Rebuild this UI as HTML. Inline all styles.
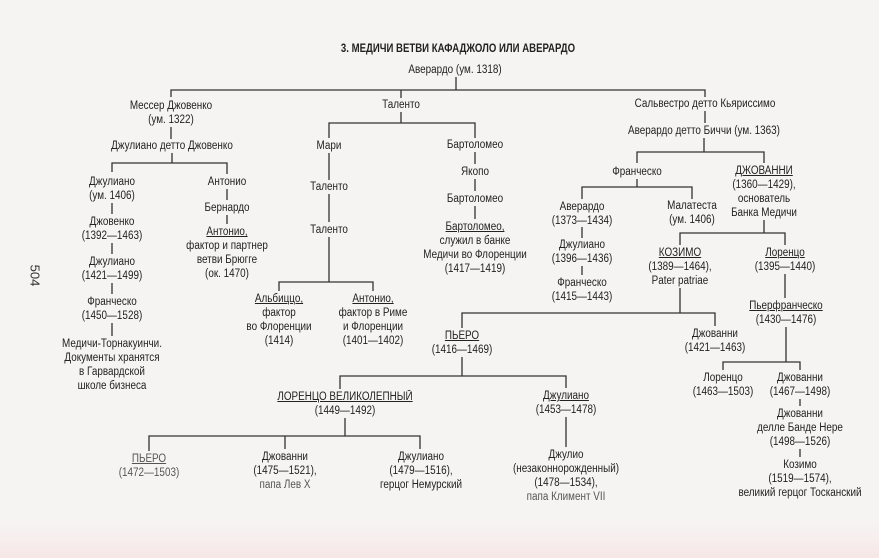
<!DOCTYPE html>
<html><head><meta charset="utf-8"><style>
body{margin:0;width:879px;height:558px;overflow:hidden;background:linear-gradient(#f6f4f3 0,#f6f4f3 520px,#f7eeee 540px,#f6e6e6 558px);position:relative;font-family:"Liberation Sans Narrow","Liberation Sans",sans-serif;color:#222;}
.n{position:absolute;width:220px;text-align:center;font-size:11.5px;line-height:14px;white-space:nowrap;transform:scaleX(0.86);transform-origin:50% 0}
u{text-decoration:underline}
.g{color:#555}
svg{position:absolute;left:0;top:0}
</style></head><body>
<svg width="879" height="558"><g stroke="#333" stroke-width="1.3" fill="none">
<path d="M456 77V90M171 97V90H705V97"/>
<path d="M401 90V98"/>
<path d="M171 127V139M172 153V163M112 172V163H227V174"/>
<path d="M112 203V214M112 243V254M112 283V294M112 323V336"/>
<path d="M227 189V200M227 215V224"/>
<path d="M401 112V123M329 138V123H475V138"/>
<path d="M329 153V180M329 194V222M329 237V282M279 291V282H373V291"/>
<path d="M475 152V164M475 179V191M475 206V219"/>
<path d="M705 111V123M704 138V152M637 163V152H764V163"/>
<path d="M637 179V187M582 199V187H692V199"/>
<path d="M582 227V238M582 266V275"/>
<path d="M764 220V233M680 245V233H785V245"/>
<path d="M680 288V313M462 328V313H715V326"/>
<path d="M785 274V298M786 327V362M723 370V362H800V370"/>
<path d="M462 357V376M340 389V376H566V388"/>
<path d="M800 399V406M800 449V457"/>
<path d="M345 418V436M149 451V436H420V449M285 436V449"/>
<path d="M566 417V447"/>
</g></svg>
<div class="n" style="left:248px;top:41px;font-weight:bold;font-size:12px;width:420px;transform:scaleX(0.8)">3. МЕДИЧИ ВЕТВИ КАФАДЖОЛО ИЛИ АВЕРАРДО</div>
<div class="n" style="left:345px;top:63px">Аверардо (ум. 1318)</div>
<div class="n" style="left:61px;top:99px">Мессер Джовенко<br>(ум. 1322)</div>
<div class="n" style="left:62px;top:139px">Джулиано детто Джовенко</div>
<div class="n" style="left:2px;top:175px">Джулиано<br>(ум. 1406)</div>
<div class="n" style="left:2px;top:215px">Джовенко<br>(1392—1463)</div>
<div class="n" style="left:2px;top:255px">Джулиано<br>(1421—1499)</div>
<div class="n" style="left:2px;top:295px">Франческо<br>(1450—1528)</div>
<div class="n" style="left:2px;top:337px">Медичи-Торнакуинчи.<br>Документы хранятся<br>в Гарвардской<br>школе бизнеса</div>
<div class="n" style="left:117px;top:175px">Антонио</div>
<div class="n" style="left:117px;top:201px">Бернардо</div>
<div class="n" style="left:117px;top:225px"><u>Антонио,</u><br>фактор и партнер<br>ветви Брюгге<br>(ок. 1470)</div>
<div class="n" style="left:291px;top:98px">Таленто</div>
<div class="n" style="left:219px;top:139px">Мари</div>
<div class="n" style="left:219px;top:180px">Таленто</div>
<div class="n" style="left:219px;top:223px">Таленто</div>
<div class="n" style="left:169px;top:292px"><u>Альбиццо,</u><br>фактор<br>во Флоренции<br>(1414)</div>
<div class="n" style="left:263px;top:292px"><u>Антонио,</u><br>фактор в Риме<br>и Флоренции<br>(1401—1402)</div>
<div class="n" style="left:365px;top:138px">Бартоломео</div>
<div class="n" style="left:365px;top:165px">Якопо</div>
<div class="n" style="left:365px;top:192px">Бартоломео</div>
<div class="n" style="left:365px;top:220px"><u>Бартоломео,</u><br>служил в банке<br>Медичи во Флоренции<br>(1417—1419)</div>
<div class="n" style="left:595px;top:97px">Сальвестро детто Кьяриссимо</div>
<div class="n" style="left:594px;top:124px">Аверардо детто Биччи (ум. 1363)</div>
<div class="n" style="left:527px;top:165px">Франческо</div>
<div class="n" style="left:472px;top:200px">Аверардо<br>(1373—1434)</div>
<div class="n" style="left:472px;top:238px">Джулиано<br>(1396—1436)</div>
<div class="n" style="left:472px;top:276px">Франческо<br>(1415—1443)</div>
<div class="n" style="left:582px;top:199px">Малатеста<br>(ум. 1406)</div>
<div class="n" style="left:654px;top:164px"><u>ДЖОВАННИ</u><br>(1360—1429),<br>основатель<br>Банка Медичи</div>
<div class="n" style="left:570px;top:246px"><u>КОЗИМО</u><br>(1389—1464),<br>Pater patriae</div>
<div class="n" style="left:675px;top:246px"><u>Лоренцо</u><br>(1395—1440)</div>
<div class="n" style="left:676px;top:299px"><u>Пьерфранческо</u><br>(1430—1476)</div>
<div class="n" style="left:352px;top:329px"><u>ПЬЕРО</u><br>(1416—1469)</div>
<div class="n" style="left:605px;top:327px">Джованни<br>(1421—1463)</div>
<div class="n" style="left:613px;top:371px">Лоренцо<br>(1463—1503)</div>
<div class="n" style="left:690px;top:371px">Джованни<br>(1467—1498)</div>
<div class="n" style="left:690px;top:407px">Джованни<br>делле Банде Нере<br>(1498—1526)</div>
<div class="n" style="left:690px;top:458px">Козимо<br>(1519—1574),<br>великий герцог Тосканский</div>
<div class="n" style="left:235px;top:390px"><u>ЛОРЕНЦО ВЕЛИКОЛЕПНЫЙ</u><br>(1449—1492)</div>
<div class="n" style="left:456px;top:389px"><u>Джулиано</u><br>(1453—1478)</div>
<div class="n" style="left:456px;top:448px">Джулио<br>(незаконнорожденный)<br>(1478—1534),<br><span class="g">папа Климент VII</span></div>
<div class="n g" style="left:39px;top:452px"><u>ПЬЕРО</u><br>(1472—1503)</div>
<div class="n" style="left:175px;top:450px">Джованни<br>(1475—1521),<br><span class="g">папа Лев X</span></div>
<div class="n" style="left:311px;top:450px">Джулиано<br>(1479—1516),<br>герцог Немурский</div>
<div style="position:absolute;left:24px;top:268px;font-size:13px;transform:rotate(90deg);color:#333">504</div>
</body></html>
